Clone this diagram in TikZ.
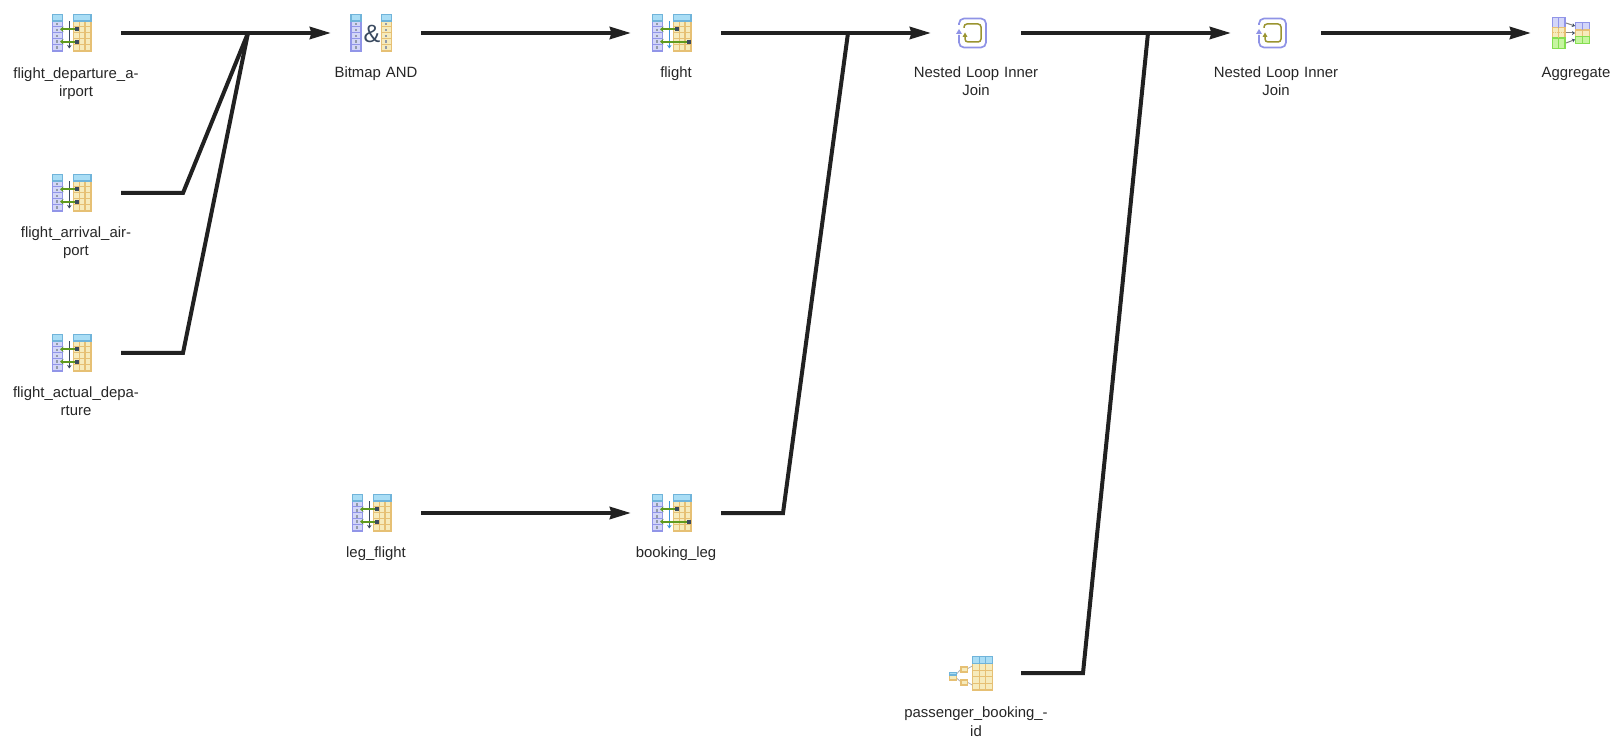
\documentclass[tikz,border=0pt]{standalone}
\usepackage{fontspec}
\setmainfont{Liberation Sans}
\usetikzlibrary{arrows.meta}
\definecolor{lavfill}{HTML}{D3D6F8}
\definecolor{lavline}{HTML}{9195E8}
\definecolor{hdfill}{HTML}{A9DDF5}
\definecolor{hdline}{HTML}{70B4DA}
\definecolor{crfill}{HTML}{F6EBBC}
\definecolor{crline}{HTML}{E6C074}
\definecolor{grfill}{HTML}{C6F5A0}
\definecolor{grline}{HTML}{84DE50}
\definecolor{arrgreen}{HTML}{5F9A1E}
\definecolor{slate}{HTML}{3A4A60}
\definecolor{vblue}{HTML}{3F96DA}
\definecolor{loopblue}{HTML}{8F93E6}
\definecolor{loopolive}{HTML}{9A9430}
\definecolor{txt}{HTML}{262626}
\definecolor{flowc}{HTML}{212121}
\tikzset{
  x=1pt,y=-1pt,
  flow/.style={draw=flowc,line width=4pt,line join=miter},
  flowarrow/.style={flow,-{Stealth[length=21pt,width=12pt,inset=1.5pt]}},
  iconbox/.style={inner sep=0pt,outer sep=0pt,minimum width=40pt,minimum height=38pt},
  lbl/.style={anchor=north,align=center,text=txt,font=\fontsize{14.9}{18}\selectfont,inner sep=0pt,text width=150pt},
  lav/.style={fill=lavfill,draw=lavline,line width=1.2pt},
  hd/.style={fill=hdfill,draw=hdline,line width=1.2pt},
  cr/.style={fill=crfill,draw=crline,line width=1.2pt},
  gr/.style={fill=grfill,draw=grline,line width=1.2pt},
  mk/.style={fill=slate!55,draw=none},
  pics/bitcol/.style n args={2}{code={
    \path[#1] (#2,-12) rectangle ++(10,30);
    \foreach \yy in {-6.3,-0.3,5.7,11.5} \draw[#1,fill=none] (#2,\yy) -- ++(10,0);
    \foreach \yy in {-9,-3,3,8.7,14.7} \fill[mk] (#2+4,\yy-1.3) rectangle ++(2,2.8);
    \path[hd] (#2,-18.7) rectangle ++(10,6.7);
  }},
  pics/indexscan/.style n args={3}{code={
    \pic {bitcol={lav}{-19.7}};
    \path[cr] (1.3,-12) rectangle (19,18);
    \foreach \xx in {7.3,13} \draw[crline,line width=1.1pt] (\xx,-12) -- (\xx,18);
    \foreach \yy in {-6.3,-0.3,5.7,11.5} \draw[crline,line width=1.1pt] (1.3,\yy) -- (19,\yy);
    \path[hd] (1.3,-18.7) rectangle (19,-12);
    \draw[#1,line width=1.6pt,-{Stealth[length=3.5pt,width=4.5pt]}] (-2.7,-12) -- (-2.7,15.5);
    \draw[arrgreen,line width=1.7pt,-{Stealth[length=3.5pt,width=5.5pt]}] (#2,-3.7) -- (-12,-3.7);
    \draw[arrgreen,line width=1.7pt,-{Stealth[length=3.5pt,width=5.5pt]}] (#3,8.7) -- (-12,8.7);
    \fill[slate] (#2-2,-5.7) rectangle ++(4,4);
    \fill[slate] (#3-2,6.7) rectangle ++(4,4);
  }},
  pics/bitmapand/.style={code={
    \pic {bitcol={lav}{-21}};
    \pic {bitcol={cr}{9.3}};
    \node[inner sep=0pt,text=slate,font=\fontsize{25}{25}\selectfont] at (0,1) {\&};
  }},
  pics/nestloop/.style={code={
    \draw[loopblue,line width=1.7pt,rounded corners=5pt] (-13,-8) -- (-13,-14.5) -- (14,-14.5) -- (14,14.5) -- (-13,14.5) -- (-13,2);
    \fill[loopblue] (-13,-4) -- (-16,1) -- (-10,1) -- cycle;
    \draw[loopolive,line width=1.5pt,rounded corners=3pt] (-8,-5) -- (-8,-9) -- (9,-9) -- (9,9) -- (-7,9) -- (-7,3);
    \fill[loopolive] (-7,-0.5) -- (-9.5,4) -- (-4.5,4) -- cycle;
  }},
  pics/aggregate/.style={code={
    \path[lav] (-18.3,-15.7) rectangle (-6,-5.3);
    \path[cr] (-18.3,-5.3) rectangle (-6,5);
    \path[gr] (-18.3,5) rectangle (-6,15.3);
    \foreach \b/\c in {-15.7/lavline,-5.3/crline,5/grline} \draw[\c,line width=1pt] (-12.2,\b) -- ++(0,10.3);
    \draw[crline,line width=1pt,densely dotted] (-18.3,0) -- (-6,0);
    \path[lav] (4.7,-10.7) rectangle (18.3,-3);
    \path[cr] (4.7,-3) rectangle (18.3,3.5);
    \path[gr] (4.7,3.5) rectangle (18.3,10.3);
    \draw[lavline,line width=1pt] (11.5,-10.7) -- (11.5,-3);
    \draw[crline,line width=1pt] (11.5,-3) -- (11.5,3.5);
    \draw[grline,line width=1pt] (11.5,3.5) -- (11.5,10.3);
    \foreach \a/\e in {-10/-7,0/0,10/6.5} \draw[gray,line width=1pt,-{Stealth[length=3pt,width=4pt,color=slate]}] (-5,\a) -- (4,\e);
  }},
  pics/hashidx/.style={code={
    \path[cr] (1.3,-9.5) rectangle (21.3,17);
    \foreach \xx in {8,14.5} \draw[crline,line width=1pt] (\xx,-9.5) -- (\xx,17);
    \foreach \yy in {-3,3.5,10} \draw[crline,line width=1pt] (1.3,\yy) -- (21.3,\yy);
    \path[hd] (1.3,-16.5) rectangle (21.3,-9.5);
    \foreach \xx in {8,14.5} \draw[hdline,line width=1pt] (\xx,-16.5) -- (\xx,-9.5);
    \draw[gray!60,line width=.8pt] (-14.5,1) -- (-10,-4) (-14.5,5) -- (-10,9) (-4,-4) -- (1.3,-7) (-4,9) -- (1.3,12);
    \path[cr] (-21.7,0) rectangle (-14.3,7);
    \path[hd] (-21.7,-.8) rectangle (-14.3,2);
    \path[cr] (-10,-6) rectangle (-3.7,-1);
    \path[cr] (-10,7) rectangle (-3.7,12);
  }},
}
\begin{document}
\begin{tikzpicture}
\useasboundingbox (0,0) rectangle (1623,751);
% icon nodes
\node[iconbox] (dep) at (72,33) {};
\node[iconbox] (arr) at (72,193) {};
\node[iconbox] (act) at (72,353) {};
\node[iconbox] (and) at (372,33) {};
\node[iconbox] (leg) at (372,513) {};
\node[iconbox] (fli) at (672,33) {};
\node[iconbox] (boo) at (672,513) {};
\node[iconbox] (nl1) at (972,33) {};
\node[iconbox] (pas) at (971,673) {};
\node[iconbox] (nl2) at (1272,33) {};
\node[iconbox] (agg) at (1571,33) {};
\pic at (dep) {indexscan={slate}{4.7}{4.7}};
\pic at (arr) {indexscan={slate}{4.7}{4.7}};
\pic at (act) {indexscan={slate}{4.7}{4.7}};
\pic at (leg) {indexscan={slate}{4.7}{4.7}};
\pic at (fli) {indexscan={vblue}{5}{17}};
\pic at (boo) {indexscan={vblue}{5}{17}};
\pic at (and) {bitmapand};
\pic at (nl1) {nestloop};
\pic at (nl2) {nestloop};
\pic at (agg) {aggregate};
\pic at (pas) {hashidx};
% labels
\node[lbl] (tdep) at (76,68) {flight\_departure\_a-\\irport};
\node[lbl] (tarr) at (76,227) {flight\_arrival\_air-\\port};
\node[lbl] (tact) at (76,387) {flight\_actual\_depa-\\rture};
\node[lbl] (tand) at (376,67) {Bitmap AND};
\node[lbl] (tleg) at (376,547) {leg\_flight};
\node[lbl] (tfli) at (676,67) {flight};
\node[lbl] (tboo) at (676,547) {booking\_leg};
\node[lbl] (tnl1) at (976,67) {Nested Loop Inner\\Join};
\node[lbl] (tnl2) at (1276,67) {Nested Loop Inner\\Join};
\node[lbl] (tpas) at (976,707) {passenger\_booking\_-\\id};
\node[lbl] (tagg) at (1576,67) {Aggregate};
% connectors
\coordinate (j1) at (248,33);
\coordinate (j2) at (848,33);
\coordinate (j3) at (1148,33);
\coordinate (b1) at (183,193);
\coordinate (b2) at (183,353);
\coordinate (b3) at (783,513);
\coordinate (b4) at (1083,673);
\draw[flowarrow] ([xshift=49pt]dep.center) -- ([xshift=-41pt]and.center);
\draw[flow] ([xshift=49pt]arr.center) -- (b1) -- (j1);
\draw[flow] ([xshift=49pt]act.center) -- (b2) -- (j1);
\draw[flowarrow] ([xshift=49pt]and.center) -- ([xshift=-41pt]fli.center);
\draw[flowarrow] ([xshift=49pt]leg.center) -- ([xshift=-41pt]boo.center);
\draw[flowarrow] ([xshift=49pt]fli.center) -- ([xshift=-41pt]nl1.center);
\draw[flow] ([xshift=49pt]boo.center) -- (b3) -- (j2);
\draw[flowarrow] ([xshift=49pt]nl1.center) -- ([xshift=-41pt]nl2.center);
\draw[flow] ([xshift=50pt]pas.center) -- (b4) -- (j3);
\draw[flowarrow] ([xshift=49pt]nl2.center) -- ([xshift=-40pt]agg.center);
\end{tikzpicture}
\end{document}
